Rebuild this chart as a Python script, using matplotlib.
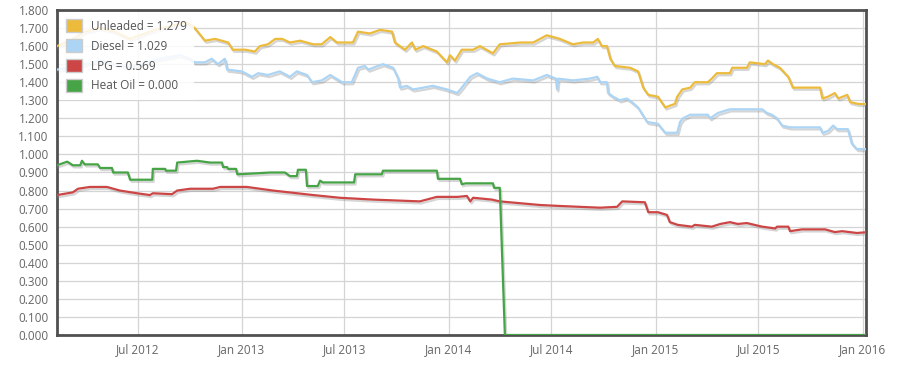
import matplotlib
matplotlib.use("Agg")
import matplotlib.pyplot as plt
import matplotlib.dates as mdates
import matplotlib.patheffects as pe
from matplotlib.patches import Patch
import numpy as np
import pandas as pd

# fuel prices, days counted from the first sample
start = pd.Timestamp("2012-02-10")
end_day = 1427

unl_days = [0, 23, 49, 76, 102, 129, 146, 173, 199, 226, 235, 243, 261, 279, 302, 310, 332, 349,
            358, 372, 385, 397, 411, 429, 452, 467, 482, 494, 522, 531, 552, 570, 591, 596, 614,
            626, 632, 646, 670, 688, 693, 702, 714, 734, 746, 769, 781, 817, 840, 864, 887, 910,
            928, 946, 954, 961, 970, 976, 984, 1011, 1025, 1034, 1043, 1060, 1073, 1081, 1090,
            1094, 1103, 1117, 1125, 1148, 1155, 1164, 1187, 1191, 1217, 1222, 1249, 1254, 1263,
            1275, 1290, 1298, 1346, 1350, 1360, 1372, 1378, 1394, 1399, 1413, 1427]
unl_vals = [1.60, 1.63, 1.68, 1.70, 1.68, 1.64, 1.66, 1.69, 1.71, 1.73, 1.72, 1.70, 1.63, 1.64,
            1.62, 1.58, 1.58, 1.57, 1.60, 1.61, 1.64, 1.64, 1.62, 1.63, 1.61, 1.61, 1.65, 1.62,
            1.62, 1.68, 1.67, 1.69, 1.68, 1.62, 1.58, 1.62, 1.58, 1.60, 1.57, 1.51, 1.55, 1.52,
            1.58, 1.58, 1.60, 1.56, 1.61, 1.62, 1.62, 1.66, 1.64, 1.61, 1.62, 1.62, 1.64, 1.60,
            1.60, 1.53, 1.49, 1.48, 1.46, 1.37, 1.33, 1.32, 1.26, 1.27, 1.28, 1.32, 1.36, 1.37,
            1.40, 1.40, 1.42, 1.45, 1.45, 1.48, 1.48, 1.51, 1.50, 1.52, 1.50, 1.48, 1.43, 1.37,
            1.37, 1.31, 1.32, 1.34, 1.31, 1.33, 1.29, 1.28, 1.279]

dsl_days = [0, 23, 49, 76, 102, 129, 155, 182, 217, 235, 243, 261, 273, 284, 296, 300, 326, 344,
            355, 372, 393, 411, 423, 441, 450, 467, 482, 503, 520, 531, 543, 549, 575, 593, 602,
            605, 617, 628, 646, 663, 688, 706, 714, 729, 741, 759, 781, 804, 840, 864, 880, 882,
            884, 910, 940, 953, 958, 970, 972, 981, 993, 1005, 1014, 1025, 1041, 1060, 1073,
            1094, 1099, 1104, 1117, 1148, 1152, 1166, 1187, 1228, 1244, 1252, 1261, 1270, 1279,
            1293, 1346, 1350, 1360, 1369, 1376, 1395, 1402, 1411, 1427]
dsl_vals = [1.47, 1.48, 1.50, 1.52, 1.50, 1.48, 1.51, 1.53, 1.55, 1.53, 1.51, 1.51, 1.53, 1.50,
            1.53, 1.47, 1.46, 1.43, 1.45, 1.44, 1.46, 1.43, 1.46, 1.44, 1.40, 1.41, 1.44, 1.40,
            1.40, 1.48, 1.49, 1.47, 1.50, 1.48, 1.42, 1.37, 1.38, 1.36, 1.37, 1.38, 1.36, 1.34,
            1.37, 1.43, 1.45, 1.42, 1.40, 1.42, 1.41, 1.44, 1.42, 1.36, 1.42, 1.41, 1.42, 1.43,
            1.40, 1.40, 1.34, 1.32, 1.30, 1.31, 1.29, 1.26, 1.18, 1.17, 1.12, 1.12, 1.18, 1.20,
            1.22, 1.22, 1.20, 1.23, 1.25, 1.25, 1.25, 1.23, 1.22, 1.20, 1.16, 1.15, 1.15, 1.12,
            1.13, 1.16, 1.14, 1.14, 1.06, 1.03, 1.029]

lpg_days = [0, 28, 37, 58, 88, 111, 141, 164, 169, 203, 212, 235, 275, 288, 335, 381, 452, 499,
            557, 640, 670, 707, 723, 729, 734, 767, 781, 852, 884, 958, 988, 997, 1037, 1043,
            1060, 1076, 1081, 1095, 1120, 1125, 1155, 1170, 1187, 1201, 1217, 1237, 1244, 1267,
            1270, 1290, 1293, 1314, 1355, 1372, 1385, 1411, 1427]
lpg_vals = [0.775, 0.79, 0.81, 0.82, 0.82, 0.80, 0.785, 0.775, 0.785, 0.78, 0.80, 0.81, 0.81,
            0.82, 0.82, 0.80, 0.775, 0.76, 0.75, 0.74, 0.765, 0.765, 0.77, 0.74, 0.76, 0.75, 0.74,
            0.72, 0.715, 0.705, 0.71, 0.74, 0.735, 0.68, 0.68, 0.665, 0.625, 0.61, 0.60, 0.61,
            0.60, 0.615, 0.625, 0.615, 0.62, 0.605, 0.60, 0.59, 0.60, 0.60, 0.575, 0.585, 0.585,
            0.57, 0.575, 0.565, 0.569]

oil_days = [0, 9, 18, 28, 41, 44, 49, 72, 76, 97, 99, 125, 129, 168, 169, 191, 192, 210, 212,
            247, 270, 291, 293, 300, 302, 316, 318, 349, 376, 402, 411, 423, 425, 439, 441, 460,
            464, 469, 524, 526, 573, 575, 670, 672, 711, 714, 721, 769, 771, 781, 790, 1427]
oil_vals = [0.94, 0.95, 0.96, 0.94, 0.94, 0.965, 0.945, 0.945, 0.925, 0.925, 0.90, 0.90, 0.86,
            0.86, 0.92, 0.92, 0.91, 0.91, 0.955, 0.965, 0.955, 0.955, 0.93, 0.93, 0.92, 0.92, 0.89,
            0.895, 0.90, 0.90, 0.88, 0.88, 0.915, 0.915, 0.825, 0.825, 0.855, 0.845, 0.845, 0.89,
            0.89, 0.91, 0.91, 0.865, 0.865, 0.835, 0.84, 0.84, 0.815, 0.815, 0.0, 0.0]

series = [
    ("Unleaded", unl_days, unl_vals, "#ecbb3c"),
    ("Diesel", dsl_days, dsl_vals, "#acd4f4"),
    ("LPG", lpg_days, lpg_vals, "#cc4646"),
    ("Heat Oil", oil_days, oil_vals, "#46a446"),
]

plt.rcParams["font.family"] = ["Open Sans", "DejaVu Sans"]

fig = plt.figure(figsize=(9.05, 3.68), dpi=100)
ax = fig.add_axes([57 / 905, 33 / 368, 809 / 905, 325 / 368])

shadow = [pe.SimpleLineShadow(offset=(1, -1.5), shadow_color="#888888", alpha=0.35),
          pe.Normal()]
handles = []
for name, days, vals, col in series:
    dates = start + pd.to_timedelta(np.array(days), unit="D")
    ax.plot(dates, vals, color=col, lw=1.6, path_effects=shadow, zorder=3)
    handles.append(Patch(facecolor=col, edgecolor="#cccccc", lw=1,
                         label=f"{name} = {vals[-1]:.3f}"))

ax.set_xlim(start, start + pd.Timedelta(days=end_day))
ax.set_ylim(0, 1.8)
ax.set_yticks(np.arange(0, 1.81, 0.1))
ax.yaxis.set_major_formatter(plt.FormatStrFormatter("%.3f"))
ax.xaxis.set_major_locator(mdates.MonthLocator(bymonth=[1, 7]))
ax.xaxis.set_major_formatter(mdates.DateFormatter("%b %Y"))
ax.tick_params(length=0, labelsize=8.5, labelcolor="#666666", pad=6)
ax.grid(True, color="#d4d4d4", lw=0.9)
ax.set_axisbelow(True)
for s in ax.spines.values():
    s.set_color("#505050")
    s.set_linewidth(2)

leg = ax.legend(handles=handles, loc="upper left", bbox_to_anchor=(0, 1),
                frameon=True, fontsize=8.5, handlelength=1.3, handleheight=1.3,
                handletextpad=0.8, labelspacing=0.55, borderpad=0.6,
                borderaxespad=0.2, fancybox=False)
leg.get_frame().set_facecolor("white")
leg.get_frame().set_alpha(0.85)
leg.get_frame().set_linewidth(0)
for t in leg.get_texts():
    t.set_color("#555555")
leg.set_zorder(5)

fig.savefig("out.png", dpi=100)
